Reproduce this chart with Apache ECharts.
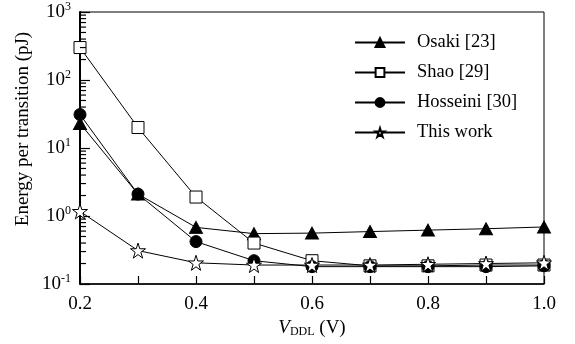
<!DOCTYPE html>
<html><head><meta charset="utf-8">
<script src="https://cdn.jsdelivr.net/npm/echarts@6/dist/echarts.min.js"></script>
<style>html,body{margin:0;padding:0;background:#fff}#c{width:575px;height:344px}</style>
</head><body><div id="c"></div>
<script>
const voltages = [0.2, 0.3, 0.4, 0.5, 0.6, 0.7, 0.8, 0.9, 1.0];
const osaki    = [23, 2.1, 0.68, 0.55, 0.56, 0.59, 0.62, 0.65, 0.69];
const shao     = [300, 20, 1.9, 0.40, 0.22, 0.185, 0.185, 0.19, 0.19];
const hosseini = [31, 2.1, 0.42, 0.22, 0.18, 0.18, 0.18, 0.18, 0.185];
const thisWork = [1.17, 0.31, 0.205, 0.19, 0.19, 0.19, 0.195, 0.2, 0.205];
const seriesNames = ['Osaki [23]', 'Shao [29]', 'Hosseini [30]', 'This work'];
const yTitle = 'Energy per transition (pJ)';
const minorTickValues = [];
[0.1, 1, 10, 100].forEach(d => { for (let m = 2; m <= 9; m++) minorTickValues.push(+(d*m).toPrecision(3)); });

const STAR = 'path://M50,2 L61,36 L97,36 L68,57 L79,92 L50,71 L21,92 L32,57 L3,36 L39,36 Z';
const font = 'Liberation Serif';
function mk(vals){ return voltages.map((v,i)=>[v, vals[i]]); }
function lineSeries(name, vals, symbol, size, fill){
  return {
    name, type:'line', data: mk(vals), symbol, symbolSize: size,
    lineStyle:{color:'#000', width:1},
    itemStyle:{color: fill, borderColor:'#000', borderWidth: 1},
    emphasis:{disabled:true}, z: 3
  };
}
const chart = echarts.init(document.getElementById('c'), null, {renderer:'canvas'});
chart.setOption({
  animation:false,
  textStyle:{fontFamily:font},
  grid:{left:80, right:31, top:12, bottom:60, show:true, borderColor:'#000', borderWidth:1, backgroundColor:'transparent'},
  legend:{
    data: seriesNames, orient:'vertical', left:349, top:28, itemWidth:50, itemHeight:11, itemGap:11,
    textStyle:{fontFamily:font, fontSize:18.5, color:'#000', padding:[0,0,0,7]}
  },
  graphic:[{
    type:'text', x:23, y:129, rotation:Math.PI/2,
    style:{text:yTitle, font:'19px "Liberation Serif"', fill:'#000', align:'center', verticalAlign:'middle'}
  }],
  xAxis:{
    type:'value', min:0.2, max:1.0, interval:0.1,
    axisLine:{lineStyle:{color:'#000', width:1.5}},
    axisTick:{inside:true, length:8, lineStyle:{color:'#000', width:1.2}},
    axisLabel:{color:'#000', fontSize:19, fontFamily:font, margin:11,
      formatter: v => (Math.round(v*10)%2===0 ? v.toFixed(1) : '')},
    splitLine:{show:false},
    name:'{i|V}{sub|DDL}{n| (V)}', nameLocation:'middle', nameGap:28,
    nameTextStyle:{rich:{
      i:{fontFamily:font, fontStyle:'italic', fontSize:19, color:'#000'},
      sub:{fontFamily:font, fontSize:12, color:'#000', padding:[6,0,0,0]},
      n:{fontFamily:font, fontSize:19, color:'#000'}
    }}
  },
  yAxis:{
    type:'log', logBase:10, min:0.1, max:1000,
    axisLine:{show:true, lineStyle:{color:'#000', width:2}},
    axisTick:{show:true, inside:true, length:10, lineStyle:{color:'#000', width:1.2}},
    axisLabel:{margin:9, formatter: v => '{b|10}{s|' + Math.round(Math.log10(v)) + '}',
      rich:{ b:{fontFamily:font, fontSize:19, color:'#000', lineHeight:22},
             s:{fontFamily:font, fontSize:12, color:'#000', padding:[0,0,10,0], lineHeight:12} }},
    splitLine:{show:false}
  },
  series:[
    {
      type:'custom', name:'minorTicks', silent:true, clip:false, z:5,
      data: minorTickValues.map(v=>[0.2, v]),
      renderItem:(params, api)=>{
        const p = api.coord([api.value(0), api.value(1)]);
        return {type:'line', shape:{x1:p[0], y1:p[1], x2:p[0]+6, y2:p[1]},
                style:{stroke:'#000', lineWidth:1.2}};
      }
    },
    lineSeries('Osaki [23]', osaki, 'triangle', [13,12], '#000'),
    lineSeries('Shao [29]', shao, 'rect', 12, '#fff'),
    lineSeries('Hosseini [30]', hosseini, 'circle', 12, '#000'),
    lineSeries('This work', thisWork, STAR, 15, '#fff')
  ]
});
</script></body></html>
